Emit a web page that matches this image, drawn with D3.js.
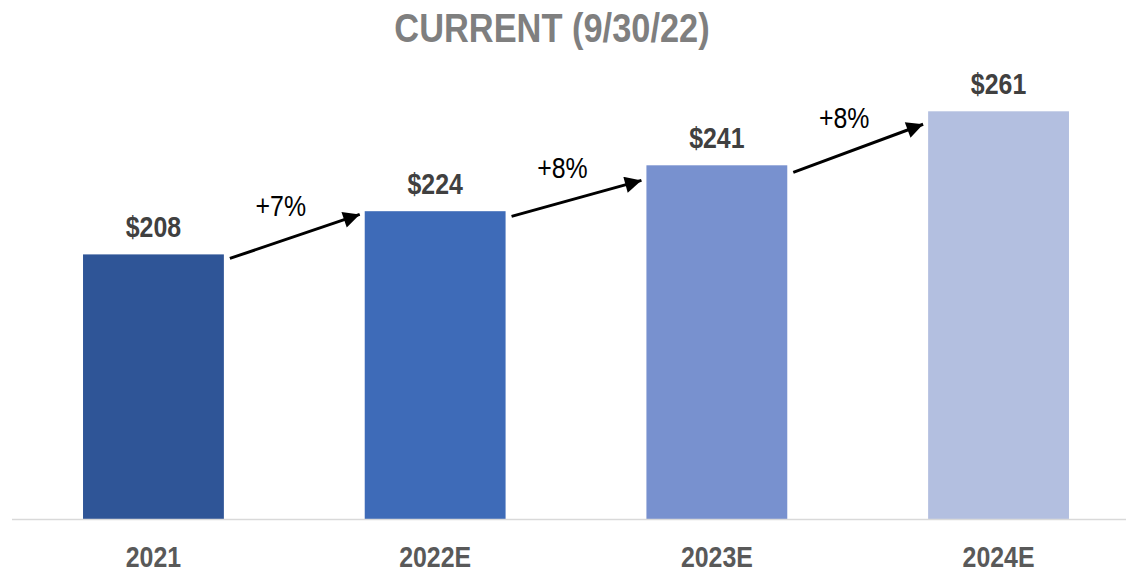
<!DOCTYPE html>
<html><head><meta charset="utf-8">
<script src="https://cdn.jsdelivr.net/npm/d3@7"></script>
<style>html,body{margin:0;padding:0;background:#fff;}svg{display:block;}</style>
</head><body>
<script>
const titleText = "CURRENT (9/30/22)";
const categories = ["2021", "2022E", "2023E", "2024E"];
const values = [208, 224, 241, 261];
const barColors = ["#2F5597", "#3E6BB8", "#7891CF", "#B3BFE0"];
const growthLabels = ["+7%", "+8%", "+8%"];
// arrow endpoints in data units (tail value, head value)
const arrowTail = [206.5, 222.1, 238.4];
const arrowHead = [222.8, 235.4, 256.2];

const W = 1126, H = 573;
const svg = d3.select("body").append("svg").attr("width", W).attr("height", H);
const font = "'Liberation Sans',Arial,sans-serif";
const SX = 0.83; // condensed look

const x = d3.scaleBand().domain(categories).range([12.6, 1139.4]).paddingInner(0.5).paddingOuter(0.25);
const y = d3.scaleLinear().domain([110, 270]).range([519, 87]);

svg.append("defs").append("marker")
  .attr("id", "ah").attr("viewBox", "0 0 10 10").attr("refX", 10).attr("refY", 5)
  .attr("markerWidth", 6.5).attr("markerHeight", 5.5).attr("markerUnits", "strokeWidth")
  .attr("orient", "auto")
  .append("path").attr("d", "M0,0 L10,5 L0,10 Z").attr("fill", "#000");

svg.append("text").attr("transform", `translate(552,41.5) scale(0.86,1)`).attr("text-anchor", "middle")
  .attr("font-family", font).attr("font-weight", "bold").attr("font-size", 40)
  .attr("fill", "#7F7F7F").text(titleText);

svg.selectAll("rect.bar").data(values).join("rect").attr("class", "bar")
  .attr("x", (d, i) => x(categories[i])).attr("width", x.bandwidth())
  .attr("y", d => y(d)).attr("height", d => y.range()[0] - y(d))
  .attr("fill", (d, i) => barColors[i]);

svg.append("line").attr("x1", 12).attr("x2", W).attr("y1", 519.5).attr("y2", 519.5)
  .attr("stroke", "#D9D9D9").attr("stroke-width", 1.5);

svg.selectAll("text.val").data(values).join("text").attr("class", "val")
  .attr("transform", (d, i) => `translate(${x(categories[i]) + x.bandwidth() / 2},${y(d) - 17}) scale(${SX},1)`)
  .attr("text-anchor", "middle").attr("font-family", font).attr("font-weight", "bold")
  .attr("font-size", 30).attr("fill", "#404040").text(d => "$" + d);

svg.selectAll("text.cat").data(categories).join("text").attr("class", "cat")
  .attr("transform", d => `translate(${x(d) + x.bandwidth() / 2},566.5) scale(${SX},1)`)
  .attr("text-anchor", "middle").attr("font-family", font).attr("font-weight", "bold")
  .attr("font-size", 30).attr("fill", "#595959").text(d => d);

const arrows = growthLabels.map((g, i) => ({
  x1: x(categories[i]) + x.bandwidth() + 6,
  y1: y(arrowTail[i]),
  x2: x(categories[i + 1]) - 5,
  y2: y(arrowHead[i]),
  label: g
}));

svg.selectAll("line.arrow").data(arrows).join("line").attr("class", "arrow")
  .attr("x1", d => d.x1).attr("y1", d => d.y1).attr("x2", d => d.x2).attr("y2", d => d.y2)
  .attr("stroke", "#000").attr("stroke-width", 3).attr("marker-end", "url(#ah)");

svg.selectAll("text.gr").data(arrows).join("text").attr("class", "gr")
  .attr("transform", d => `translate(${(d.x1 + d.x2) / 2 - 14},${(d.y1 + d.y2) / 2 - 20}) scale(${SX},1)`)
  .attr("text-anchor", "middle").attr("font-family", font)
  .attr("font-size", 30).attr("fill", "#000").text(d => d.label);
</script>
</body></html>
